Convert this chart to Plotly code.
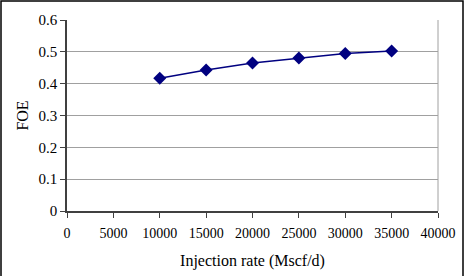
import plotly.graph_objects as go

injection_rate = [10000, 15000, 20000, 25000, 30000, 35000]
foe = [0.417, 0.443, 0.465, 0.481, 0.495, 0.503]
x_ticks = [0, 5000, 10000, 15000, 20000, 25000, 30000, 35000, 40000]
y_ticks = [0, 0.1, 0.2, 0.3, 0.4, 0.5, 0.6]

W, H = 466, 276
L, R, T, B = 67, 28, 20, 65
pw, ph = W - L - R, H - T - B

SERIF = "Liberation Serif, Times New Roman, serif"

fig = go.Figure()
fig.add_trace(go.Scatter(
    x=injection_rate, y=foe, mode="lines+markers",
    line=dict(color="#000080", width=1.5),
    marker=dict(symbol="diamond", size=10, color="#000080"),
    showlegend=False,
))

fig.update_layout(
    width=W, height=H,
    margin=dict(l=L, r=R, t=T, b=B),
    paper_bgcolor="white", plot_bgcolor="white",
    font=dict(family=SERIF, size=14, color="black"),
    xaxis=dict(
        range=[0, 40000], tickvals=x_ticks, ticktext=[str(v) for v in x_ticks],
        showgrid=False, zeroline=False, automargin=False,
        showline=True, linecolor="#404040", linewidth=1.5,
        ticks="outside", ticklen=5, tickcolor="#404040",
        ticklabelstandoff=3,
        title=dict(text="Injection rate (Mscf/d)", font=dict(family=SERIF, size=16, color="black"), standoff=15),
        tickfont=dict(family=SERIF, size=14, color="black"),
    ),
    yaxis=dict(
        range=[0, 0.6], tickvals=y_ticks, ticktext=[str(v) for v in y_ticks],
        showgrid=True, gridcolor="#a0a0a0", gridwidth=1,
        zeroline=False, automargin=False,
        showline=True, linecolor="#404040", linewidth=1.5,
        ticks="outside", ticklen=5, tickcolor="#404040",
        title=dict(text="FOE", font=dict(family=SERIF, size=16, color="black"), standoff=6),
        tickfont=dict(family=SERIF, size=15, color="black"),
    ),
)
fig.add_shape(type="line", xref="paper", yref="paper", x0=1, x1=1, y0=0, y1=1,
              line=dict(color="#a0a0a0", width=1))
fig.add_shape(type="rect", xref="paper", yref="paper",
              x0=(1 - L) / pw, x1=1 + (R - 3) / pw,
              y0=-(B + 10) / ph, y1=1 + (T - 1) / ph,
              line=dict(color="black", width=1.5), fillcolor="rgba(0,0,0,0)")

fig.write_html("out.html")
